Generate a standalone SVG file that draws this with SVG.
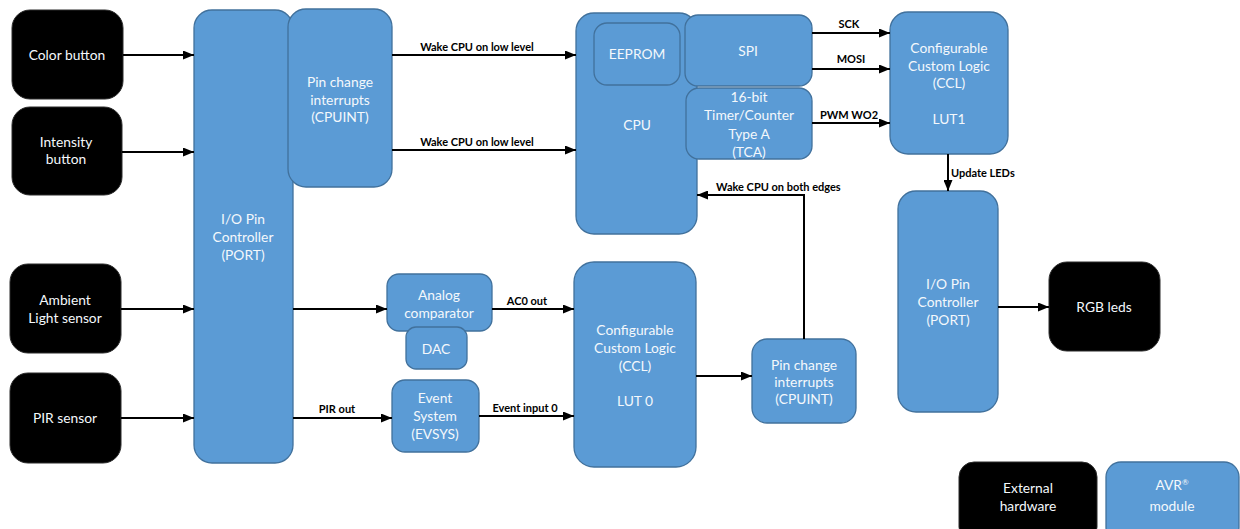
<svg xmlns="http://www.w3.org/2000/svg" width="1240" height="529" viewBox="0 0 1240 529">
  <style>
    .hw { fill: #000000; stroke: #2b2b2b; stroke-width: 1; }
    .mod { fill: #5b9bd5; stroke: #41719c; stroke-width: 1.3; }
    .t { font-family: Lato, "Open Sans", sans-serif; font-size: 13.8px; fill: #f4f8fc; text-anchor: middle; }
    .lbl { font-family: Lato, "Open Sans", sans-serif; font-size: 11px; font-weight: bold; fill: #000000; text-anchor: middle; }
    .lblL { font-family: Lato, "Open Sans", sans-serif; font-size: 11px; font-weight: bold; fill: #000000; }
    .wire { fill: none; stroke: #000000; stroke-width: 2; }
  </style>
  <defs>
    <marker id="arrow" markerWidth="11" markerHeight="9" refX="11" refY="4.5" orient="auto" markerUnits="userSpaceOnUse">
      <path d="M0,0 L11,4.5 L0,9 Z" fill="#000000"/>
    </marker>
  </defs>
  <rect width="1240" height="529" fill="#ffffff"/>

  <!-- External inputs -->
  <g id="color-button">
    <rect class="hw" x="12" y="10" width="111" height="89" rx="18"/>
    <text class="t" x="67" y="60">Color button</text>
  </g>
  <g id="intensity-button">
    <rect class="hw" x="12" y="107" width="110" height="88" rx="18"/>
    <text class="t" x="66" y="147">Intensity</text>
    <text class="t" x="66" y="164">button</text>
  </g>
  <g id="ambient-light-sensor">
    <rect class="hw" x="10" y="264" width="111" height="89" rx="18"/>
    <text class="t" x="65" y="305">Ambient</text>
    <text class="t" x="65" y="323">Light sensor</text>
  </g>
  <g id="pir-sensor">
    <rect class="hw" x="10" y="373" width="111" height="90" rx="18"/>
    <text class="t" x="65" y="423">PIR sensor</text>
  </g>

  <!-- Input port -->
  <g id="port-in">
    <rect class="mod" x="194" y="10" width="99" height="453" rx="18"/>
    <text class="t" x="243" y="224">I/O Pin</text>
    <text class="t" x="243" y="242">Controller</text>
    <text class="t" x="243" y="260">(PORT)</text>
  </g>
  <g id="cpuint-top">
    <rect class="mod" x="288" y="9" width="104" height="178" rx="18"/>
    <text class="t" x="340" y="87">Pin change</text>
    <text class="t" x="340" y="105">interrupts</text>
    <text class="t" x="340" y="122">(CPUINT)</text>
  </g>

  <!-- CPU and peripherals -->
  <g id="cpu">
    <rect class="mod" x="576" y="13" width="121" height="221" rx="18"/>
    <text class="t" x="637" y="130">CPU</text>
  </g>
  <g id="eeprom">
    <rect class="mod" x="594" y="23" width="86" height="62" rx="13"/>
    <text class="t" x="637" y="59">EEPROM</text>
  </g>
  <g id="spi">
    <rect class="mod" x="685" y="15" width="127" height="71" rx="13"/>
    <text class="t" x="748" y="56">SPI</text>
  </g>
  <g id="tca">
    <rect class="mod" x="686" y="88" width="126" height="71" rx="13"/>
    <text class="t" x="749" y="102">16-bit</text>
    <text class="t" x="749" y="120">Timer/Counter</text>
    <text class="t" x="749" y="139">Type A</text>
    <text class="t" x="749" y="157">(TCA)</text>
  </g>
  <g id="ccl-lut1">
    <rect class="mod" x="890" y="12" width="118" height="142" rx="18"/>
    <text class="t" x="949" y="53">Configurable</text>
    <text class="t" x="949" y="71">Custom Logic</text>
    <text class="t" x="949" y="88">(CCL)</text>
    <text class="t" x="949" y="124">LUT1</text>
  </g>
  <g id="port-out">
    <rect class="mod" x="898" y="191" width="100" height="221" rx="18"/>
    <text class="t" x="948" y="289">I/O Pin</text>
    <text class="t" x="948" y="307">Controller</text>
    <text class="t" x="948" y="325">(PORT)</text>
  </g>
  <g id="rgb-leds">
    <rect class="hw" x="1049" y="262" width="111" height="89" rx="18"/>
    <text class="t" x="1104" y="312">RGB leds</text>
  </g>

  <!-- Analog and event path -->
  <g id="analog-comparator">
    <rect class="mod" x="387" y="274" width="105" height="57" rx="12"/>
    <text class="t" x="439" y="300">Analog</text>
    <text class="t" x="439" y="318">comparator</text>
  </g>
  <g id="dac">
    <rect class="mod" x="406" y="327" width="61" height="42" rx="10"/>
    <text class="t" x="436" y="354">DAC</text>
  </g>
  <g id="evsys">
    <rect class="mod" x="392" y="380" width="87" height="72" rx="13"/>
    <text class="t" x="435" y="403">Event</text>
    <text class="t" x="435" y="421">System</text>
    <text class="t" x="435" y="439">(EVSYS)</text>
  </g>
  <g id="ccl-lut0">
    <rect class="mod" x="574" y="262" width="122" height="205" rx="20"/>
    <text class="t" x="635" y="335">Configurable</text>
    <text class="t" x="635" y="353">Custom Logic</text>
    <text class="t" x="635" y="371">(CCL)</text>
    <text class="t" x="635" y="406">LUT 0</text>
  </g>
  <g id="cpuint-bottom">
    <rect class="mod" x="752" y="339" width="104" height="84" rx="15"/>
    <text class="t" x="804" y="370">Pin change</text>
    <text class="t" x="804" y="387">interrupts</text>
    <text class="t" x="804" y="404">(CPUINT)</text>
  </g>

  <!-- Legend -->
  <g id="legend-external">
    <rect class="hw" x="959" y="462" width="138" height="80" rx="15"/>
    <text class="t" x="1028" y="493">External</text>
    <text class="t" x="1028" y="511">hardware</text>
  </g>
  <g id="legend-avr">
    <rect class="mod" x="1106" y="462" width="133" height="80" rx="15"/>
    <text class="t" x="1172" y="490">AVR<tspan font-size="8" dy="-5">®</tspan></text>
    <text class="t" x="1172" y="511">module</text>
  </g>

  <!-- Connectors -->
  <g id="connectors">
    <line class="wire" x1="123" y1="55" x2="194" y2="55" marker-end="url(#arrow)"/>
    <line class="wire" x1="122" y1="152" x2="194" y2="152" marker-end="url(#arrow)"/>
    <line class="wire" x1="121" y1="309" x2="194" y2="309" marker-end="url(#arrow)"/>
    <line class="wire" x1="121" y1="418" x2="194" y2="418" marker-end="url(#arrow)"/>

    <line class="wire" x1="392" y1="55" x2="576" y2="55" marker-end="url(#arrow)"/>
    <text class="lbl" x="477" y="51">Wake CPU on low level</text>
    <line class="wire" x1="392" y1="150" x2="576" y2="150" marker-end="url(#arrow)"/>
    <text class="lbl" x="477" y="146">Wake CPU on low level</text>

    <line class="wire" x1="812" y1="33" x2="890" y2="33" marker-end="url(#arrow)"/>
    <text class="lbl" x="849" y="28">SCK</text>
    <line class="wire" x1="812" y1="69" x2="890" y2="69" marker-end="url(#arrow)"/>
    <text class="lbl" x="851" y="63">MOSI</text>
    <line class="wire" x1="812" y1="123" x2="890" y2="123" marker-end="url(#arrow)"/>
    <text class="lbl" x="849" y="119">PWM WO2</text>

    <line class="wire" x1="948" y1="154" x2="948" y2="191" marker-end="url(#arrow)"/>
    <text class="lblL" x="951" y="177">Update LEDs</text>

    <line class="wire" x1="998" y1="307" x2="1049" y2="307" marker-end="url(#arrow)"/>

    <line class="wire" x1="293" y1="309" x2="387" y2="309" marker-end="url(#arrow)"/>
    <line class="wire" x1="492" y1="309" x2="574" y2="309" marker-end="url(#arrow)"/>
    <text class="lbl" x="527" y="305">AC0 out</text>

    <line class="wire" x1="293" y1="418" x2="392" y2="418" marker-end="url(#arrow)"/>
    <text class="lbl" x="337" y="413">PIR out</text>
    <line class="wire" x1="479" y1="416" x2="574" y2="416" marker-end="url(#arrow)"/>
    <text class="lbl" x="525" y="412">Event input 0</text>

    <line class="wire" x1="696" y1="376" x2="752" y2="376" marker-end="url(#arrow)"/>

    <polyline class="wire" points="804,339 804,195 697,195" marker-end="url(#arrow)"/>
    <text class="lblL" x="716" y="191">Wake CPU on both edges</text>
  </g>
</svg>
